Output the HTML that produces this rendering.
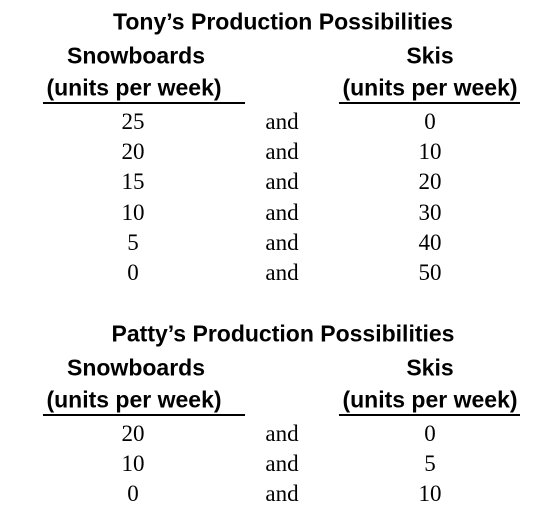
<!DOCTYPE html>
<html><head><style>
body{margin:0;width:554px;height:519px;background:#fff;position:relative;overflow:hidden;}
.t{position:absolute;white-space:nowrap;transform:translate(-50%,-50%);color:#000;}
.h{font-family:"Liberation Sans",sans-serif;font-weight:bold;font-size:23px;}
.v{font-family:"Liberation Serif",serif;font-size:23px;}
.ln{position:absolute;height:2px;background:#000;}
</style></head><body>
<div id="root"></div>
<script>
const tables=[
 {title:"Tony’s Production Possibilities",top:0,snow:[25,20,15,10,5,0],skis:[0,10,20,30,40,50]},
 {title:"Patty’s Production Possibilities",top:312,snow:[20,10,0],skis:[0,5,10]}
];
const root=document.getElementById('root');
function txt(s,x,y,cls,name){
 const d=document.createElement('div');
 d.className='t '+cls;d.textContent=s;d.style.left=x+'px';d.style.top=y+'px';
 
 
 root.appendChild(d);
}
function line(x,w,y,name){
 const d=document.createElement('div');
 d.className='ln';d.style.left=x+'px';d.style.width=w+'px';d.style.top=y+'px';
 
 
 root.appendChild(d);
}
tables.forEach((tb,k)=>{
 const o=tb.top;
 txt(tb.title,283,o+22,'h','table-title');
 txt('Snowboards',136,o+56,'h','snowboards-header');
 txt('Skis',430,o+56,'h','skis-header');
 txt('(units per week)',134,o+88,'h','snowboards-units');
 txt('(units per week)',430,o+88,'h','skis-units');
 line(43,202,o+102,'header-underline-left');
 line(339,181,o+102,'header-underline-right');
 tb.snow.forEach((v,i)=>{
  const y=o+122+i*30.2;
  txt(String(v),133,y,'v','snowboards-value');
  txt('and',282,y,'v','and-label');
  txt(String(tb.skis[i]),430,y,'v','skis-value');
 });
});
</script>
</body></html>
